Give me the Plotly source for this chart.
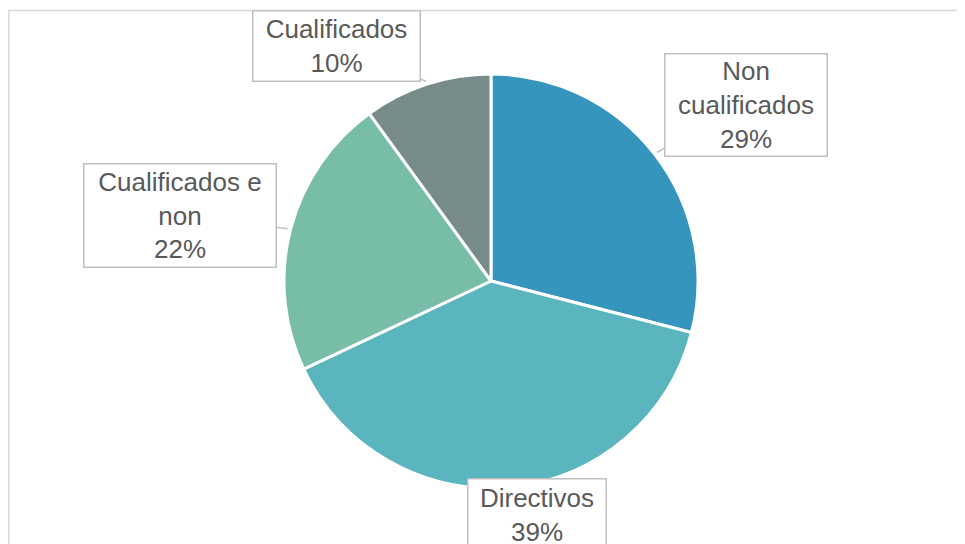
import math
import plotly.graph_objects as go

labels = ["Non cualificados", "Directivos", "Cualificados e non", "Cualificados"]
values = [29, 39, 22, 10]
label_text = ["Non<br>cualificados", "Directivos", "Cualificados e<br>non", "Cualificados"]
colors = ["#3595BC", "#5AB5BF", "#77BDA7", "#788B8B"]

W, H = 965, 544
OFF = 8  # page body margin
# pie geometry in (reference) pixels
cx, cy, R = 491 - OFF, 281 - OFF, 207
# callout box centres and sizes (reference pixels)
boxes = [(746, 105, 164, 104), (537, 515, 140, 74), (180, 215.5, 194, 105), (336.5, 46, 169, 72)]

def px(x):
    return x / W

def py(y):
    return 1 - y / H

fig = go.Figure(go.Pie(
    labels=labels, values=values, sort=False, direction="clockwise", rotation=0,
    marker=dict(colors=colors, line=dict(color="white", width=3)),
    textinfo="none", hoverinfo="skip", showlegend=False,
    domain=dict(x=[px(cx - R), px(cx + R)], y=[py(cy + R), py(cy - R)]),
))

total = sum(values)
cum = 0
annotations = []
for lab, v, (bx, by, bw, bh) in zip(label_text, values, boxes):
    bx -= OFF
    by -= OFF
    mid = (cum + v / 2) / total * 2 * math.pi
    cum += v
    tx = cx + (R + 3) * math.sin(mid)
    ty = cy - (R + 3) * math.cos(mid)
    pct = f"{round(v / total * 100)}%"
    annotations.append(dict(
        x=px(tx), y=py(ty), xref="paper", yref="paper",
        text=f"{lab}<br>{pct}", showarrow=True, arrowhead=0,
        arrowcolor="#BFBFBF", arrowwidth=1.5,
        ax=bx - tx, ay=by - ty,
        font=dict(family="Liberation Sans, Arial, sans-serif", size=26, color="#595959"),
        bgcolor="white", bordercolor="#BFBFBF", borderwidth=1.5, borderpad=0,
        width=bw - 3, height=bh - 3, align="center", valign="middle",
    ))

fig.update_layout(
    width=W, height=H, margin=dict(l=0, r=0, t=0, b=0),
    paper_bgcolor="white", plot_bgcolor="white",
    annotations=annotations,
    shapes=[dict(type="rect", xref="paper", yref="paper",
                 x0=px(0.75), x1=px(W + 20), y0=py(H + 20), y1=py(2.5),
                 line=dict(color="#D9D9D9", width=1.5), layer="below")],
)

fig.write_html("out.html")
